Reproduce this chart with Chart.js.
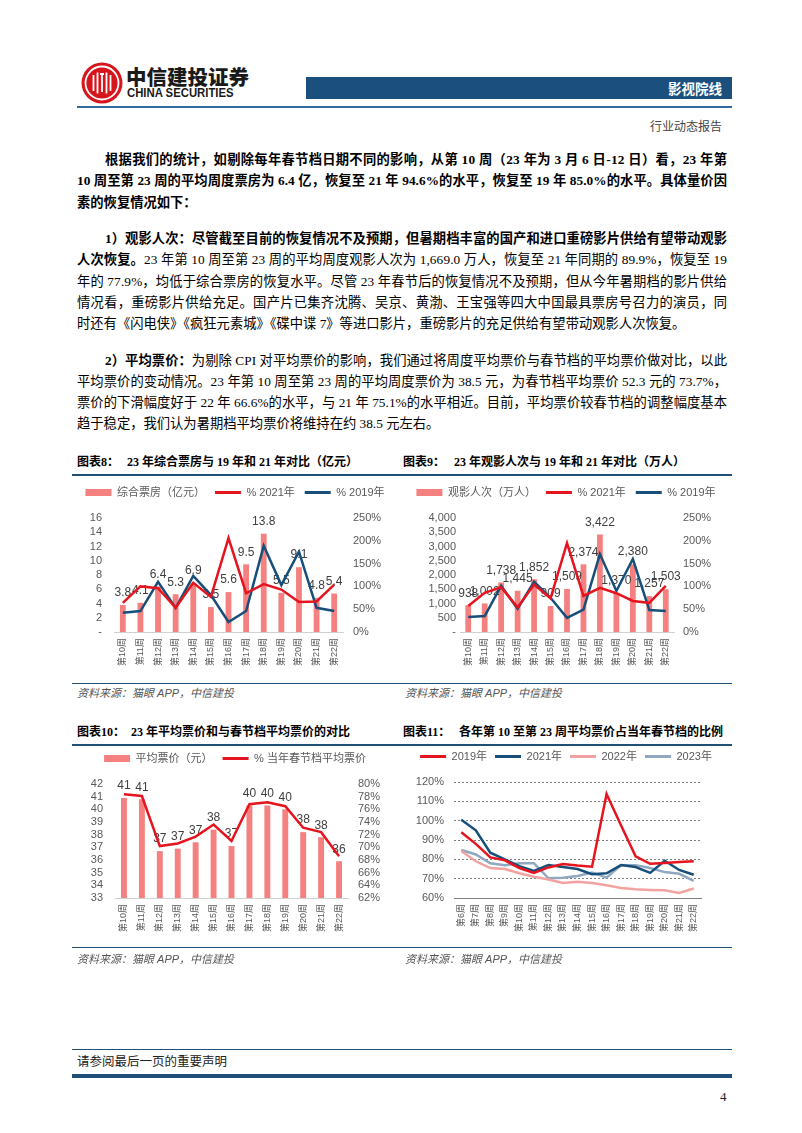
<!DOCTYPE html>
<html><head><meta charset="utf-8">
<script src="https://cdn.jsdelivr.net/npm/chart.js@4.4.0/dist/chart.umd.min.js"></script>
<style>
html,body{margin:0;padding:0;background:#fff;}
body{width:802px;height:1133px;position:relative;overflow:hidden;font-family:"Liberation Serif","Noto Sans CJK SC",serif;color:#000;}
.a{position:absolute;white-space:nowrap;}
.ln{position:absolute;white-space:nowrap;height:20px;line-height:20px;font-size:13.3px;}
.ln span{display:inline-block;}
.b{font-weight:bold;}
.ttl{position:absolute;white-space:nowrap;font-weight:bold;font-size:12px;height:20px;line-height:20px;}
.src{position:absolute;white-space:nowrap;font-style:italic;font-size:11px;color:#555;height:16px;line-height:16px;font-family:"Liberation Sans","Noto Sans CJK SC",sans-serif;}
.rule{position:absolute;background:#1F4E79;}
canvas{position:absolute;}
</style></head>
<body>
<!-- header -->
<svg class="a" style="left:81px;top:62px" width="42" height="42" viewBox="0 0 42 42">
<circle cx="21" cy="21" r="20.5" fill="#D7151C"/>
<circle cx="21" cy="21" r="16.5" fill="none" stroke="#fff" stroke-width="1.8"/>
<path d="M12.5 13 v16 M16.5 10.5 v21 M25.5 10.5 v21 M29.5 13 v16" stroke="#fff" stroke-width="1.8" fill="none"/>
<path d="M19 12 h4 M21 12 v18" stroke="#fff" stroke-width="1.8" fill="none"/>
</svg>
<div class="a" style="left:126px;top:63px;font-family:'Noto Sans CJK SC',sans-serif;font-weight:900;font-size:20.5px;line-height:26px;letter-spacing:0px;color:#1a1a1a;">中信建投证券</div>
<div class="a" style="left:127px;top:86px;font-family:'Liberation Sans',sans-serif;font-weight:bold;font-size:12.2px;line-height:15px;color:#1a1a1a;transform-origin:0 0;transform:scaleX(0.93);">CHINA SECURITIES</div>
<div class="a" style="left:306px;top:77px;width:426px;height:22px;background:#1B4F7E;"></div>
<div class="a" style="right:80px;top:77px;height:22px;line-height:22px;color:#fff;font-weight:bold;font-size:13.5px;font-family:'Noto Sans CJK SC',sans-serif;">影视院线</div>
<div class="rule" style="left:77px;top:106px;width:655px;height:1.5px;background:#2E6A9E;"></div>
<div class="a" style="right:80px;top:118px;line-height:18px;font-size:12px;color:#444;">行业动态报告</div>

<!-- body text -->
<div class="ln b jl" style="left:105px;top:150px;width:622px;"><span>根据我们的统计，如剔除每年春节档日期不同的影响，从第 10 周（23 年为 3 月 6 日-12 日）看，23 年第</span></div>
<div class="ln b jl" style="left:77px;top:171.3px;width:650px;"><span>10 周至第 23 周的平均周度票房为 6.4 亿，恢复至 21 年 94.6%的水平，恢复至 19 年 85.0%的水平。具体量价因</span></div>
<div class="ln b" style="left:77px;top:192.6px;"><span>素的恢复情况如下：</span></div>

<div class="ln b jl" style="left:105px;top:229px;width:622px;"><span>1）观影人次：尽管截至目前的恢复情况不及预期，但暑期档丰富的国产和进口重磅影片供给有望带动观影</span></div>
<div class="ln jl" style="left:77px;top:250.3px;width:650px;"><span><b>人次恢复。</b>23 年第 10 周至第 23 周的平均周度观影人次为 1,669.0 万人，恢复至 21 年同期的 89.9%，恢复至 19</span></div>
<div class="ln jl" style="left:77px;top:271.6px;width:650px;"><span>年的 77.9%，均低于综合票房的恢复水平。尽管 23 年春节后的恢复情况不及预期，但从今年暑期档的影片供给</span></div>
<div class="ln jl" style="left:77px;top:292.9px;width:650px;"><span>情况看，重磅影片供给充足。国产片已集齐沈腾、吴京、黄渤、王宝强等四大中国最具票房号召力的演员，同</span></div>
<div class="ln" style="left:77px;top:314.2px;"><span>时还有《闪电侠》《疯狂元素城》《碟中谍 7》等进口影片，重磅影片的充足供给有望带动观影人次恢复。</span></div>

<div class="ln jl" style="left:105px;top:350.5px;width:622px;"><span><b>2）平均票价：</b>为剔除 CPI 对平均票价的影响，我们通过将周度平均票价与春节档的平均票价做对比，以此</span></div>
<div class="ln jl" style="left:77px;top:371.8px;width:650px;"><span>平均票价的变动情况。23 年第 10 周至第 23 周的平均周度票价为 38.5 元，为春节档平均票价 52.3 元的 73.7%，</span></div>
<div class="ln jl" style="left:77px;top:393.1px;width:650px;"><span>票价的下滑幅度好于 22 年 66.6%的水平，与 21 年 75.1%的水平相近。目前，平均票价较春节档的调整幅度基本</span></div>
<div class="ln" style="left:77px;top:414.4px;"><span>趋于稳定，我们认为暑期档平均票价将维持在约 38.5 元左右。</span></div>

<!-- chart titles row 1 -->
<div class="ttl" style="left:77px;top:452px;">图表8：</div>
<div class="ttl" style="left:127px;top:452px;">23 年综合票房与 19 年和 21 年对比（亿元）</div>
<div class="ttl" style="left:403px;top:452px;">图表9：</div>
<div class="ttl" style="left:454px;top:452px;">23 年观影人次与 19 年和 21 年对比（万人）</div>
<div class="rule" style="left:72px;top:473.5px;width:660px;height:2.5px;"></div>

<canvas id="c8" width="326" height="205" style="left:72px;top:477px;"></canvas>
<canvas id="c9" width="332" height="205" style="left:400px;top:477px;"></canvas>

<div class="rule" style="left:72px;top:683px;width:660px;height:1.3px;"></div>
<div class="src" style="left:77px;top:685px;">资料来源：猫眼 APP，中信建投</div>
<div class="src" style="left:405px;top:685px;">资料来源：猫眼 APP，中信建投</div>

<!-- chart titles row 2 -->
<div class="ttl" style="left:77px;top:722px;">图表10：</div>
<div class="ttl" style="left:131px;top:722px;">23 年平均票价和与春节档平均票价的对比</div>
<div class="ttl" style="left:403px;top:722px;">图表11：</div>
<div class="ttl" style="left:459px;top:722px;">各年第 10 至第 23 周平均票价占当年春节档的比例</div>
<div class="rule" style="left:72px;top:743.5px;width:660px;height:2.5px;"></div>

<canvas id="c10" width="326" height="205" style="left:72px;top:743px;"></canvas>
<canvas id="c11" width="332" height="205" style="left:400px;top:743px;"></canvas>

<div class="rule" style="left:72px;top:947px;width:660px;height:1.3px;"></div>
<div class="src" style="left:77px;top:951px;">资料来源：猫眼 APP，中信建投</div>
<div class="src" style="left:405px;top:951px;">资料来源：猫眼 APP，中信建投</div>

<!-- footer -->
<div class="rule" style="left:72px;top:1049px;width:660px;height:1.3px;"></div>
<div class="a" style="left:77px;top:1053px;line-height:18px;font-size:12.5px;color:#222;">请参阅最后一页的重要声明</div>
<div class="rule" style="left:72px;top:1074px;width:660px;height:3.5px;"></div>
<div class="a" style="left:720px;top:1088px;line-height:18px;font-size:13px;color:#222;">4</div>

<script>
// ---------- data ----------
const weeks10to22 = ['第10周','第11周','第12周','第13周','第14周','第15周','第16周','第17周','第18周','第19周','第20周','第21周','第22周'];
const boxOffice = [3.8, 4.1, 6.4, 5.3, 6.9, 3.5, 5.6, 9.5, 13.8, 5.5, 9.1, 4.8, 5.4];
const boxVs2021 = [64, 100, 96, 53, 108, 77, 206, 85, 105, 93, 66, 67, 104];
const boxVs2019 = [42, 46, 110, 53, 123, 81, 22, 46, 189, 103, 176, 53, 46];

const attendance = [938, 1002, 1738, 1445, 1852, 909, 1509, 2374, 3422, 1370, 2380, 1257, 1503];
const attVs2021 = [57, 86, 98, 54, 104, 74, 195, 79, 97, 85, 68, 64, 101];
const attVs2019 = [33, 35, 101, 51, 110, 75, 31, 49, 171, 90, 160, 48, 46];

const avgPrice = [40.9, 40.8, 36.7, 36.9, 37.4, 38.4, 37.1, 40.3, 40.3, 40.0, 38.2, 37.8, 35.9];
const priceVsSpring = [78.4, 78.1, 70.2, 70.6, 71.7, 73.6, 71.0, 76.8, 77.1, 76.5, 73.1, 72.4, 68.6];

const weeks6to22 = ['第6周','第7周','第8周','第9周','第10周','第11周','第12周','第13周','第14周','第15周','第16周','第17周','第18周','第19周','第20周','第21周','第22周'];
const ratio2019 = [94, 88, 81, 79.5, 75.5, 73, 75.8, 77.6, 76.8, 76.2, 113.8, 97.5, 81.6, 77.7, 78.1, 78.6, 79];
const ratio2021 = [100.5, 95, 83.4, 80, 76.5, 74, 77, 76, 75, 72.3, 72.8, 77, 76, 73, 79.3, 74.5, 72];
const ratio2022 = [84.3, 79, 75.5, 75, 72.8, 71, 69.6, 67.8, 68.4, 67.8, 66.6, 65.2, 64.5, 64.2, 64, 62.6, 64.9];
const ratio2023 = [84.8, 82.5, 78, 77, 78, 78, 70.2, 70.5, 71.4, 73.2, 70.5, 77, 77, 75.5, 73.4, 72.5, 68.8];

// ---------- justify body lines ----------
document.querySelectorAll('.jl').forEach(d => {
  const s = d.querySelector('span');
  const W = parseFloat(d.style.width);
  const w = s.getBoundingClientRect().width;
  const n = s.textContent.length;
  const ls = (W - w) / (n - 1);
  s.style.letterSpacing = ls + 'px';
  s.querySelectorAll('b').forEach(b => b.style.letterSpacing = ls + 'px');
});

// ---------- chart helpers ----------
const SANS = '"Liberation Sans","Noto Sans CJK SC",sans-serif';
Chart.defaults.font.family = SANS;
Chart.defaults.color = '#595959';
const BAR = '#F4817F', RED = '#E6141E', NAVY = '#174F7A', PINK = '#F3A2A2', GREYBLUE = '#8FA8C0';

function legendGap(gap) {
  return { id: 'legendGap', beforeLayout(chart) {
    const lg = chart.legend;
    if (lg && !lg._gapPatched) {
      const fit = lg.fit;
      lg.fit = function () { fit.call(this); this.height += gap; };
      lg._gapPatched = true;
    }
  }};
}
function barLabels(fmt) {
  return { id: 'barLabels', afterDatasetDraw(chart, args) {
    if (args.index !== 0) return;
    const ctx = chart.ctx, ds = chart.data.datasets[0];
    ctx.save();
    ctx.font = '12px "Liberation Sans",sans-serif';
    ctx.fillStyle = '#404040';
    ctx.textAlign = 'center'; ctx.textBaseline = 'middle';
    args.meta.data.forEach((el, i) => ctx.fillText(fmt(ds.data[i]), el.x, el.y - 12));
    ctx.restore();
  }};
}
function legendOpts(pad) {
  return {
    position: 'top',
    labels: {
      usePointStyle: true, pointStyleWidth: 26, boxHeight: 7, padding: pad || 10,
      color: '#595959', font: { size: 11, family: SANS },
      generateLabels(chart) {
        return chart.data.datasets.map((ds, i) => {
          const isLine = ds.type === 'line' || chart.config.type === 'line' && !ds.type;
          const c = isLine ? ds.borderColor : ds.backgroundColor;
          return { text: ds.label, fillStyle: c, strokeStyle: c, lineWidth: isLine ? 3 : 0,
                   pointStyle: isLine ? 'line' : 'rect', datasetIndex: i, hidden: false, fontColor: '#595959' };
        });
      }
    }
  };
}
function xAxis(extra) {
  return Object.assign({
    grid: { display: false, drawTicks: false },
    border: { display: true, color: '#D0D0D0' },
    ticks: { autoSkip: false, maxRotation: 90, minRotation: 90, padding: 6, color: '#595959',
             font: { size: 9, family: SANS } },
    afterFit(s) { s.height = 50; }
  }, extra || {});
}
function yAxis(pos, min, max, step, width, pad, cb) {
  return {
    position: pos, min, max,
    grid: { display: false, drawTicks: false }, border: { display: false },
    ticks: { stepSize: step, autoSkip: false, padding: pad, color: '#595959', font: { size: 11 }, callback: cb },
    afterFit(s) { s.width = width; }
  };
}
const pct = v => v + '%';
const baseOpts = { responsive: false, animation: false, devicePixelRatio: 1,
  layout: { padding: 0 }, plugins: { tooltip: { enabled: false } } };

// ---------- chart 8 ----------
new Chart(document.getElementById('c8'), {
  type: 'bar',
  data: { labels: weeks10to22, datasets: [
    { type: 'bar', label: '综合票房（亿元）', data: boxOffice, backgroundColor: BAR, yAxisID: 'y', order: 2,
      barPercentage: 1, categoryPercentage: 0.33 },
    { type: 'line', label: '% 2021年', data: boxVs2021, borderColor: RED, backgroundColor: RED, borderWidth: 2.5,
      pointRadius: 0, yAxisID: 'y1', order: 1 },
    { type: 'line', label: '% 2019年', data: boxVs2019, borderColor: NAVY, backgroundColor: NAVY, borderWidth: 2.5,
      pointRadius: 0, yAxisID: 'y1', order: 1 }
  ]},
  options: Object.assign({}, baseOpts, {
    plugins: { tooltip: { enabled: false }, legend: legendOpts() },
    scales: {
      x: xAxis(),
      y: yAxis('left', 0, 16, 2, 42, 12, v => v === 0 ? '-' : v),
      y1: yAxis('right', 0, 250, 50, 55, 10, pct)
    }
  }),
  plugins: [legendGap(10), barLabels(v => v.toFixed(1))]
});

// ---------- chart 9 ----------
new Chart(document.getElementById('c9'), {
  type: 'bar',
  data: { labels: weeks10to22, datasets: [
    { type: 'bar', label: '观影人次（万人）', data: attendance, backgroundColor: BAR, yAxisID: 'y', order: 2,
      barPercentage: 1, categoryPercentage: 0.35 },
    { type: 'line', label: '% 2021年', data: attVs2021, borderColor: RED, backgroundColor: RED, borderWidth: 2.5,
      pointRadius: 0, yAxisID: 'y1', order: 1 },
    { type: 'line', label: '% 2019年', data: attVs2019, borderColor: NAVY, backgroundColor: NAVY, borderWidth: 2.5,
      pointRadius: 0, yAxisID: 'y1', order: 1 }
  ]},
  options: Object.assign({}, baseOpts, {
    plugins: { tooltip: { enabled: false }, legend: legendOpts() },
    scales: {
      x: xAxis(),
      y: yAxis('left', 0, 4000, 500, 60, 4, v => v === 0 ? '-' : v.toLocaleString('en-US')),
      y1: yAxis('right', 0, 250, 50, 58, 9, pct)
    }
  }),
  plugins: [legendGap(10), barLabels(v => v.toLocaleString('en-US'))]
});

// ---------- chart 10 ----------
const priceAxisMin = 33, priceAxisMax = 42;
new Chart(document.getElementById('c10'), {
  type: 'bar',
  data: { labels: weeks10to22, datasets: [
    { type: 'bar', label: '平均票价（元）', data: avgPrice, backgroundColor: BAR, yAxisID: 'y', order: 2,
      barPercentage: 1, categoryPercentage: 0.33, base: priceAxisMin, clip: 0 },
    { type: 'line', label: '% 当年春节档平均票价', data: priceVsSpring, borderColor: RED, backgroundColor: RED,
      borderWidth: 2.5, pointRadius: 0, yAxisID: 'y1', order: 1 }
  ]},
  options: Object.assign({}, baseOpts, {
    plugins: { tooltip: { enabled: false }, legend: legendOpts() },
    scales: {
      x: xAxis(),
      y: yAxis('left', priceAxisMin, priceAxisMax, 1, 43, 12),
      y1: yAxis('right', 62, 80, 2, 50, 10, pct)
    }
  }),
  plugins: [legendGap(10), barLabels(v => Math.round(v))]
});

// ---------- chart 11 ----------
new Chart(document.getElementById('c11'), {
  type: 'line',
  data: { labels: weeks6to22, datasets: [
    { label: '2019年', data: ratio2019, borderColor: RED, backgroundColor: RED, borderWidth: 2.5, pointRadius: 0 },
    { label: '2021年', data: ratio2021, borderColor: NAVY, backgroundColor: NAVY, borderWidth: 2.5, pointRadius: 0 },
    { label: '2022年', data: ratio2022, borderColor: PINK, backgroundColor: PINK, borderWidth: 2.5, pointRadius: 0 },
    { label: '2023年', data: ratio2023, borderColor: GREYBLUE, backgroundColor: GREYBLUE, borderWidth: 2.5, pointRadius: 0 }
  ]},
  options: Object.assign({}, baseOpts, {
    plugins: { tooltip: { enabled: false }, legend: legendOpts(8) },
    scales: {
      x: xAxis({ offset: true, border: { display: true, color: '#7F7F7F' } }),
      y: {
        position: 'left', min: 60, max: 120,
        grid: { display: true, drawTicks: false, color: '#7F7F7F', lineWidth: 1 },
        border: { display: false, dash: [2, 2] },
        ticks: { stepSize: 10, autoSkip: false, padding: 10, color: '#595959', font: { size: 11 }, callback: pct },
        afterFit(s) { s.width = 54; }
      },
      yPad: {
        type: 'linear', position: 'right', display: true,
        grid: { display: false, drawTicks: false }, border: { display: false },
        ticks: { display: false },
        afterFit(s) { s.width = 31; }
      }
    }
  }),
  plugins: [legendGap(10)]
});
</script>
</body></html>
